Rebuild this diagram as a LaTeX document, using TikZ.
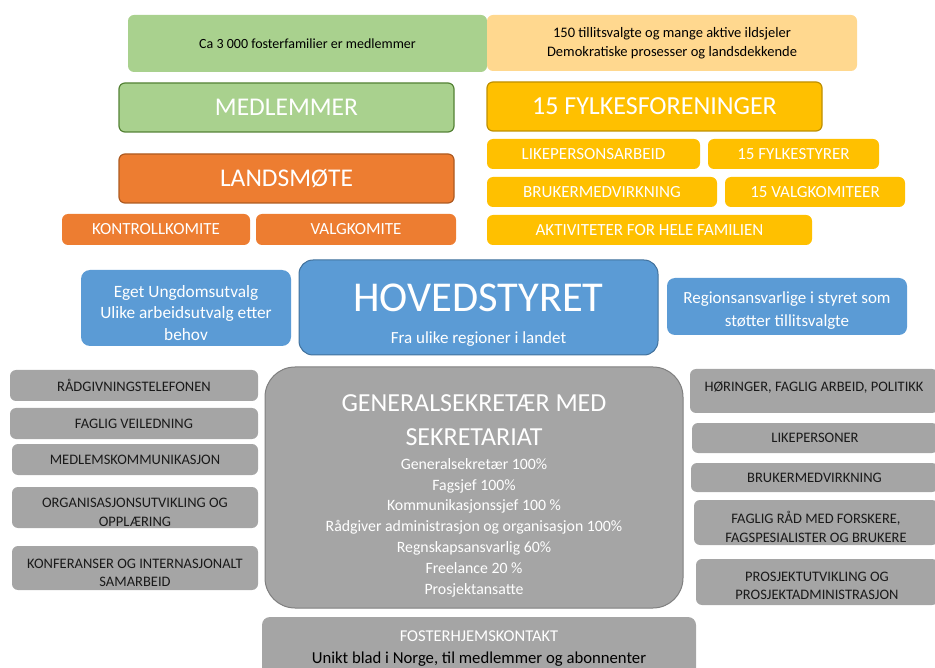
\documentclass[tikz,border=0pt]{standalone}
\usepackage{fontspec}
\setmainfont{Carlito}
\definecolor{gLight}{HTML}{A9D18E}
\definecolor{gDark}{HTML}{548235}
\definecolor{oMain}{HTML}{ED7D31}
\definecolor{oDark}{HTML}{AE5A21}
\definecolor{yMain}{HTML}{FFC000}
\definecolor{yDark}{HTML}{BF9000}
\definecolor{yLight}{HTML}{FFD88F}
\definecolor{bMain}{HTML}{5B9BD5}
\definecolor{bDark}{HTML}{41719C}
\definecolor{grMain}{HTML}{A5A5A5}
\definecolor{grDark}{HTML}{7F7F7F}
\definecolor{txDark}{HTML}{1A1A1A}
\newcommand{\fs}[2]{\fontsize{#1}{#2}\selectfont}
\begin{document}
\begin{tikzpicture}[x=1pt,y=-1pt,
  box/.style={rounded corners=6pt, inner sep=2pt, align=center, text=white},
  plain/.style={inner sep=0pt, align=center},
  greybox/.style={box, fill=grMain, text=txDark, font=\fs{14.5}{18.5}},
  greytext/.style={plain, text=txDark, font=\fs{14.5}{18.5}},
]
\useasboundingbox (0,0) rectangle (935,668);
% ---- top left (green/orange)
\node[box, fill=gLight, text=black, minimum width=359, minimum height=57, font=\fs{14}{17}] (gtop) at (307.5,43.5) {Ca 3 000 fosterfamilier er medlemmer};
\node[box, fill=gLight, draw=gDark, line width=1.2pt, minimum width=335, minimum height=49, font=\fs{25.5}{30}] (medl) at (286.5,107.5) {MEDLEMMER};
\node[box, fill=oMain, draw=oDark, line width=1.2pt, minimum width=335, minimum height=49, font=\fs{25.5}{30}] (lands) at (286.5,178.5) {LANDSMØTE};
\node[box, fill=oMain, minimum width=188, minimum height=31, font=\fs{17}{20}] (kontr) at (156,229.5) {KONTROLLKOMITE};
\node[box, fill=oMain, minimum width=200, minimum height=31, font=\fs{17}{20}] (valg) at (356,229.5) {VALGKOMITE};
% ---- top right (yellow)
\node[box, fill=yLight, text=black, minimum width=370, minimum height=56, font=\fs{14.5}{19}] (ytop) at (672,43) {150 tillitsvalgte og mange aktive ildsjeler\\Demokratiske prosesser og landsdekkende};
\node[box, fill=yMain, draw=yDark, line width=1.2pt, minimum width=335, minimum height=49, font=\fs{26}{30}] (fylk) at (654.5,106.5) {15 FYLKESFORENINGER};
\node[box, fill=yMain, minimum width=213, minimum height=30, font=\fs{17}{20}] (like) at (593.5,154) {LIKEPERSONSARBEID};
\node[box, fill=yMain, minimum width=171, minimum height=30, font=\fs{17}{20}] (fstyr) at (793.5,154) {15 FYLKESTYRER};
\node[box, fill=yMain, minimum width=230, minimum height=30, font=\fs{17}{20}] (bruk) at (602,192) {BRUKERMEDVIRKNING};
\node[box, fill=yMain, minimum width=180, minimum height=30, font=\fs{17}{20}] (vkom) at (815,192) {15 VALGKOMITEER};
\node[box, fill=yMain, minimum width=325, minimum height=30, font=\fs{17}{20}] (akt) at (649.5,230) {AKTIVITETER FOR HELE FAMILIEN};
% ---- blue row
\node[box, fill=bMain, minimum width=210, minimum height=76, rounded corners=9pt] (ungd) at (186,308) {};
\node[plain, text=white, font=\fs{17.3}{21.5}] (ungdT) at (186,313) {Eget Ungdomsutvalg\\Ulike arbeidsutvalg etter\\behov};
\node[box, fill=bMain, draw=bDark, line width=1pt, rounded corners=14pt, minimum width=359, minimum height=95] (hoved) at (478.5,307.5) {};
\node[plain, text=white, font=\fs{42.5}{48}] (hovedT) at (478.5,298) {HOVEDSTYRET};
\node[plain, text=white, font=\fs{17}{20}] (hovedS) at (478.5,339) {Fra ulike regioner i landet};
\node[box, fill=bMain, minimum width=240, minimum height=57, rounded corners=8pt] (region) at (787,306.5) {};
\node[plain, text=white, font=\fs{17}{23}] (regionT) at (787,310.5) {Regionsansvarlige i styret som\\støtter tillitsvalgte};
% ---- grey left
\node[greybox, minimum width=248, minimum height=31] (l1) at (134,385.5) {RÅDGIVNINGSTELEFONEN};
\node[greybox, minimum width=248, minimum height=31] (l2) at (134,423.5) {FAGLIG VEILEDNING};
\node[greybox, minimum width=246, minimum height=31] (l3) at (135,459.5) {MEDLEMSKOMMUNIKASJON};
\node[greybox, minimum width=246, minimum height=41] (l4) at (135,507.5) {};
\node[greytext] (l4t) at (135,512.5) {ORGANISASJONSUTVIKLING OG\\OPPLÆRING};
\node[greybox, minimum width=246, minimum height=44] (l5) at (135,568) {};
\node[greytext] (l5t) at (135,573) {KONFERANSER OG INTERNASJONALT\\SAMARBEID};
% ---- grey centre
\node[box, fill=grMain, draw=grDark, line width=1pt, rounded corners=30pt, minimum width=418, minimum height=241] (gen) at (474,487.5) {};
\node[plain, text=white, font=\fs{26}{34}] (genT) at (474,420) {GENERALSEKRETÆR MED\\SEKRETARIAT};
\node[plain, text=white, font=\fs{15.8}{20.8}] (genL) at (474,527.5) {Generalsekretær 100\%\\Fagsjef 100\%\\Kommunikasjonssjef 100 \%\\Rådgiver administrasjon og organisasjon 100\%\\Regnskapsansvarlig 60\%\\Freelance 20 \%\\Prosjektansatte};
\node[box, fill=grMain, rounded corners=8pt, minimum width=434, minimum height=70] (fost) at (479,652) {};
\node[plain, text=white, font=\fs{16.5}{18}] (fostT) at (479,636) {FOSTERHJEMSKONTAKT};
\node[plain, text=black, font=\fs{16.7}{18}] (fostS) at (479,659) {Unikt blad i Norge, til medlemmer og abonnenter};
% ---- grey right
\node[greybox, minimum width=248, minimum height=44] (r1) at (814,391) {};
\node[greytext] (r1t) at (814,388) {HØRINGER, FAGLIG ARBEID, POLITIKK};
\node[greybox, minimum width=246, minimum height=30] (r2) at (815,438) {LIKEPERSONER};
\node[greybox, minimum width=247, minimum height=29] (r3) at (814.5,477.5) {BRUKERMEDVIRKNING};
\node[greybox, minimum width=244, minimum height=45] (r4) at (816,522.5) {};
\node[greytext] (r4t) at (816,527) {FAGLIG RÅD MED FORSKERE,\\FAGSPESIALISTER OG BRUKERE};
\node[greybox, minimum width=242, minimum height=46] (r5) at (817,582) {};
\node[greytext] (r5t) at (817,586) {PROSJEKTUTVIKLING OG\\PROSJEKTADMINISTRASJON};
\end{tikzpicture}
\end{document}
